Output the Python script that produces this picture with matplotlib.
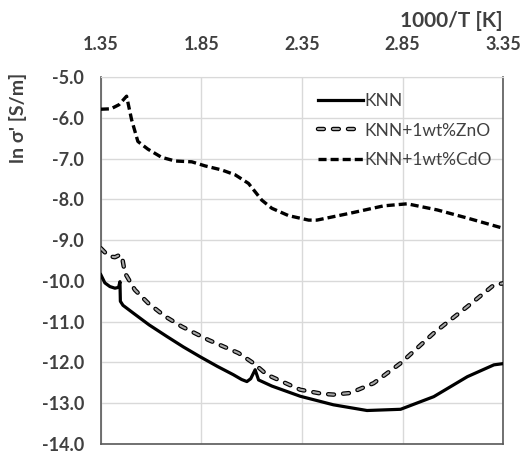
import matplotlib
matplotlib.use("Agg")
import matplotlib.pyplot as plt
from matplotlib.lines import Line2D
from matplotlib.legend_handler import HandlerTuple

plt.rcParams['font.family'] = ['Lato', 'DejaVu Sans']
plt.rcParams['lines.scale_dashes'] = False

# 1000/T [K] and ln sigma' [S/m]
knn_x = [1.35, 1.37, 1.395, 1.42, 1.438, 1.445, 1.447, 1.46, 1.511, 1.59, 1.677, 1.76,
         1.843, 1.93, 2.008, 2.05, 2.076, 2.095, 2.117, 2.134, 2.2, 2.341, 2.506, 2.673,
         2.84, 3.005, 3.172, 3.304, 3.35]
knn_y = [-9.85, -10.05, -10.14, -10.18, -10.16, -10.02, -10.5, -10.6, -10.79, -11.08,
         -11.36, -11.62, -11.86, -12.1, -12.30, -12.42, -12.47, -12.4, -12.18, -12.43,
         -12.58, -12.83, -13.04, -13.18, -13.15, -12.84, -12.35, -12.06, -12.03]

zno_x = [1.35, 1.37, 1.395, 1.42, 1.445, 1.455, 1.462, 1.47, 1.519, 1.586, 1.669, 1.752,
         1.885, 2.034, 2.109, 2.175, 2.341, 2.45, 2.506, 2.59, 2.706, 2.84, 3.005, 3.172,
         3.304, 3.35]
zno_y = [-9.2, -9.3, -9.40, -9.42, -9.36, -9.4, -9.6, -9.81, -10.22, -10.55, -10.87,
         -11.12, -11.45, -11.77, -12.02, -12.30, -12.67, -12.77, -12.79, -12.75, -12.51,
         -12.02, -11.28, -10.63, -10.10, -10.06]

cdo_x = [1.35, 1.40, 1.44, 1.478, 1.49, 1.503, 1.534, 1.584, 1.652, 1.719, 1.802, 1.868,
         1.951, 2.018, 2.084, 2.15, 2.20, 2.283, 2.383, 2.424, 2.59, 2.756, 2.873, 3.022,
         3.172, 3.35]
cdo_y = [-5.79, -5.78, -5.68, -5.47, -5.75, -6.05, -6.58, -6.77, -6.97, -7.06, -7.08,
         -7.18, -7.28, -7.40, -7.61, -8.02, -8.22, -8.40, -8.51, -8.51, -8.34, -8.16,
         -8.11, -8.26, -8.46, -8.71]

xticks = [1.35, 1.85, 2.35, 2.85, 3.35]
yticks = [-5, -6, -7, -8, -9, -10, -11, -12, -13, -14]

txt = '#404040'
zdash = (4.2, 6.6)

fig = plt.figure(figsize=(5.28, 4.53), dpi=100)
ax = fig.add_axes([0.191, 0.02, 0.762, 0.81])

ax.plot(knn_x, knn_y, color='black', lw=2.3, label='KNN', zorder=3)
# ZnO: grey dashes with black outline
ax.plot(zno_x, zno_y, color='black', lw=3.2, dashes=zdash, dash_capstyle='round', zorder=3)
ax.plot(zno_x, zno_y, color='#a6a6a6', lw=1.5, dashes=zdash, dash_capstyle='round', zorder=4)
ax.plot(cdo_x, cdo_y, color='black', lw=2.4, dashes=(5.8, 2.9), label='KNN+1wt%CdO', zorder=3)

ax.set_xlim(1.35, 3.35)
ax.set_ylim(-14, -5)
ax.set_xticks(xticks)
ax.set_xticklabels(['%.2f' % v for v in xticks])
ax.set_yticks(yticks)
ax.set_yticklabels(['%.1f' % v for v in yticks])
ax.xaxis.tick_top()
ax.tick_params(length=0, labelsize=13, labelcolor=txt)
ax.tick_params(axis='x', pad=17)
ax.tick_params(axis='y', pad=12)
for lab in ax.get_xticklabels() + ax.get_yticklabels():
    lab.set_fontweight('bold')
ax.grid(True, color='#d9d9d9', lw=1)
ax.set_axisbelow(True)
ax.spines['top'].set_color('#d9d9d9')
for s in ['left', 'bottom', 'right']:
    ax.spines[s].set_color('#595959')
    ax.spines[s].set_linewidth(1.2)

# legend built by hand so the ZnO entry looks like the line
zo = Line2D([], [], color='black', lw=3.2, dashes=zdash, dash_capstyle='round')
zi = Line2D([], [], color='#a6a6a6', lw=1.5, dashes=zdash, dash_capstyle='round')
h, l = ax.get_legend_handles_labels()
handles = [h[0], (zo, zi), h[1]]
labels = ['KNN', 'KNN+1wt%ZnO', 'KNN+1wt%CdO']
leg = ax.legend(handles, labels, handler_map={tuple: HandlerTuple(ndivide=1, pad=0)},
                loc='upper left', bbox_to_anchor=(0.50, 1.0), frameon=False,
                fontsize=12.5, handlelength=2.6, handletextpad=0.1, labelspacing=0.8)
for t in leg.get_texts():
    t.set_color(txt)

fig.text(0.951, 0.953, '1000/T [K]', ha='right', va='center', fontsize=15,
         fontweight='bold', color=txt)
fig.text(0.034, 0.74, "ln σ' [S/m]", ha='center', va='center', rotation=90,
         fontsize=14, fontweight='bold', color=txt)

fig.savefig('out.png', dpi=100)
